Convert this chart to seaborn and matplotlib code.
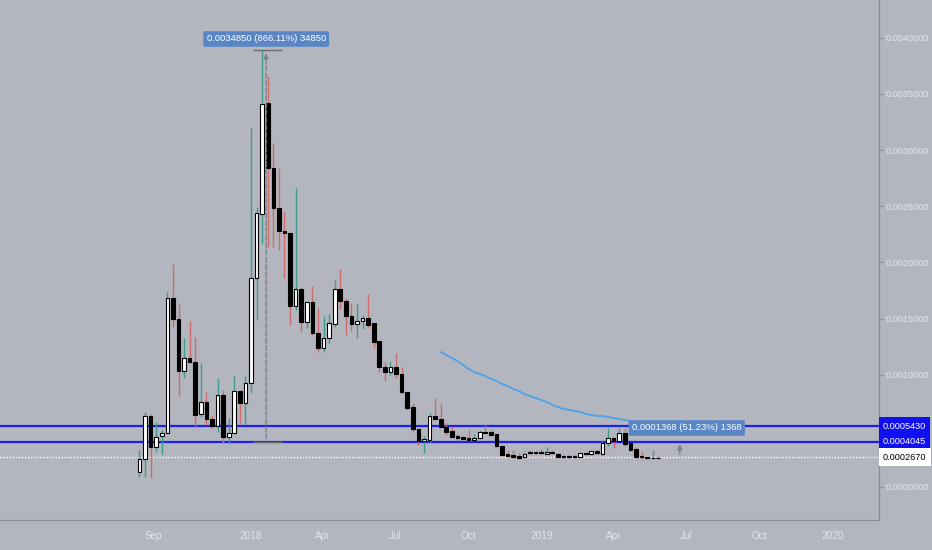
import matplotlib
matplotlib.use("Agg")
import matplotlib.dates as mdates
import matplotlib.pyplot as plt
import matplotlib.transforms as mtransforms
import numpy as np
import pandas as pd
import seaborn as sns

# weekly candles, prices in units of 1e-7
first_week = "2017-08-14"
opens = [1336, 2493, 6323, 3562, 4542, 4809, 16830, 14960, 10330, 11487,
         11131, 6501, 7569, 6055, 5432, 8193, 4453, 4809, 8549, 7480,
         9261, 18611, 24311, 34195, 28407, 24845, 22797, 22619, 16118, 17632,
         14693, 16474, 13714, 12378, 13268, 14515, 17632, 16563, 15228, 14515,
         14782, 15049, 14604, 13001, 10686, 10241, 10686, 10063, 8460, 7124,
         5165, 4096, 4185, 6323, 6055, 5343, 4987, 4542, 4453, 4363,
         4185, 4363, 4898, 4898, 4720, 3651, 2939, 2850, 2761, 2672,
         3117, 3117, 3117, 2939, 3117, 2939, 2761, 2761, 2761, 2672,
         3028, 2939, 3206, 2939, 3918, 4363, 4096, 4809, 3918, 3384,
         2761, 2672, 2582, 2600]
highs = [3295, 6679, 6501, 5788, 5076, 17365, 19858, 16296, 13268, 14782,
         13358, 11042, 8460, 6412, 9706, 8638, 6144, 9885, 8638, 9885,
         31969, 24934, 38874, 36600, 30633, 28407, 24489, 22619, 26626, 17810,
         16474, 17899, 15940, 15228, 15406, 18433, 19413, 16830, 16385, 16296,
         15317, 17187, 14604, 13001, 11131, 11131, 11933, 10686, 8460, 7480,
         5165, 4542, 6590, 7925, 7480, 5699, 5343, 4720, 4542, 5076,
         4720, 5076, 5521, 5076, 4720, 3651, 3295, 3295, 3028, 3117,
         3295, 3206, 3384, 3562, 3295, 3028, 2850, 2850, 2850, 3117,
         3117, 3295, 3295, 4096, 5254, 4453, 5254, 5254, 3918, 3562,
         3117, 2672, 3295, 2761]
lows = [891, 891, 801, 3117, 2939, 4809, 14248, 8104, 9706, 11042,
        5432, 6234, 5521, 5254, 4898, 3918, 3918, 4809, 5699, 5610,
        8371, 14871, 21728, 21372, 21372, 21105, 18611, 14426, 15762, 13803,
        14159, 13536, 12022, 12022, 12823, 14248, 15851, 13536, 13892, 13268,
        14070, 14159, 12378, 10241, 9439, 9974, 9706, 8282, 6857, 4898,
        3740, 3028, 4007, 5966, 5343, 4631, 4453, 4185, 4096, 4096,
        4185, 4274, 4809, 4631, 3562, 2761, 2672, 2582, 2493, 2672,
        2939, 2939, 2939, 2939, 2939, 2672, 2582, 2582, 2582, 2672,
        2850, 2850, 2939, 2850, 3651, 3473, 4096, 3651, 3206, 2582,
        2493, 2493, 2493, 2493]
closes = [2493, 6323, 3562, 4453, 4809, 16830, 14960, 10330, 11487, 11131,
          6412, 7569, 6055, 5432, 8193, 4453, 4809, 8549, 7480, 9261,
          18611, 24400, 34106, 28407, 24845, 22797, 22619, 16118, 17632, 14693,
          16474, 13714, 12378, 13268, 14604, 17632, 16563, 15228, 14515, 14782,
          15049, 14426, 12912, 10686, 10241, 10686, 10063, 8460, 7035, 5165,
          4096, 4274, 6323, 6055, 5343, 4898, 4453, 4363, 4274, 4185,
          4363, 4898, 4809, 4631, 3651, 2850, 2761, 2672, 2582, 2939,
          3028, 3028, 3028, 3117, 3028, 2672, 2672, 2672, 2672, 3028,
          2939, 3206, 3028, 3918, 4363, 4096, 4809, 3829, 3295, 2672,
          2672, 2582, 2600, 2582]

# moving average, starts at candle 54
ma_start = 54
ma_values = [12022, 11755, 11487, 11220, 10864, 10508, 10241, 10063, 9885, 9617,
             9439, 9172, 8994, 8727, 8549, 8282, 8104, 7925, 7747, 7569,
             7302, 7124, 6946, 6857, 6768, 6679, 6501, 6412, 6323, 6323,
             6234, 6144, 6055, 5966, 5877]

level_lines = [0.0005430, 0.0004045]
last_price = 0.0002670

measure1 = {"date": "2018-01-20", "low": 0.0004024, "high": 0.0038874,
            "text": "0.0034850 (866.11%) 34850"}
measure2 = {"date": "2019-06-23", "low": 0.0002670, "high": 0.0004038,
            "text": "0.0001368 (51.23%) 1368"}

tick_dates = ["2017-09-01", "2018-01-01", "2018-04-01", "2018-07-01", "2018-10-01",
              "2019-01-01", "2019-04-01", "2019-07-01", "2019-10-01", "2020-01-01"]
tick_labels = ["Sep", "2018", "Apr", "Jul", "Oct", "2019", "Apr", "Jul", "Oct", "2020"]
price_ticks = [0.0, 0.001, 0.0015, 0.002, 0.0025, 0.003, 0.0035, 0.004]

bg = "#b3b6be"
up_wick = "#3e9c8c"
down_wick = "#cf6b6b"
label_col = "#e4e6ea"

sns.set_theme(style="white")
plt.rcParams["font.family"] = ["Liberation Sans", "DejaVu Sans"]

scale = 1e-7
df = pd.DataFrame({
    "date": pd.date_range(first_week, periods=len(opens), freq="7D"),
    "open": np.array(opens) * scale,
    "high": np.array(highs) * scale,
    "low": np.array(lows) * scale,
    "close": np.array(closes) * scale,
})
df["x"] = mdates.date2num(df["date"])
df["up"] = df["close"] >= df["open"]

fig = plt.figure(figsize=(9.32, 5.5), dpi=100, facecolor=bg)
ax = fig.add_axes([0, 30 / 550, 879 / 932, 520 / 550])
ax.set_facecolor(bg)

# levels
for lv in level_lines:
    ax.axhline(lv, color="#1d1df5", lw=1.6, zorder=1)
ax.axhline(last_price, color="white", lw=1.0, ls=(0, (1, 1.2)), zorder=1)

# wicks
ax.vlines(df["x"], df["low"], df["high"],
          colors=np.where(df["up"], up_wick, down_wick), lw=1.0, zorder=2)

# bodies
ax.bar(df["x"], df["close"] - df["open"], bottom=df["open"], width=4.6,
       color=np.where(df["up"], "white", "black"), edgecolor="black",
       linewidth=0.8, zorder=3)

# moving average
ma = pd.DataFrame({"date": df["date"].iloc[ma_start:ma_start + len(ma_values)].values,
                   "ma": np.array(ma_values) * scale})
sns.lineplot(data=ma, x="date", y="ma", ax=ax, color="#4ca3ec", lw=1.3, zorder=2)

# measure tools
for m, half in ((measure1, 16), (measure2, 0)):
    xd = mdates.date2num(pd.Timestamp(m["date"]))
    ax.annotate("", xy=(xd, m["high"]), xytext=(xd, m["low"]),
                arrowprops=dict(arrowstyle="-|>", color="#7c7f86", lw=1.0,
                                ls="--" if half else "-", mutation_scale=7),
                zorder=4)
    if half:
        ax.hlines([m["high"], m["low"]], xd - half, xd + half + 4,
                  color="#6b6e74", lw=1.0, zorder=4)
box_style = dict(boxstyle="round,pad=0.35,rounding_size=0.15", fc="#5b86c6", ec="none")
xd1 = mdates.date2num(pd.Timestamp(measure1["date"]))
ax.text(xd1, 0.0039894, measure1["text"], ha="center", va="center",
        fontsize=6.8, color="white", bbox=box_style, zorder=5)
ax.text(mdates.date2num(pd.Timestamp("2019-04-24")), 0.0005254, measure2["text"],
        ha="left", va="center", fontsize=6.8, color="white", bbox=box_style, zorder=5)

# axes
ax.set_xlim(mdates.date2num(pd.Timestamp("2017-02-20")),
            mdates.date2num(pd.Timestamp("2020-02-28")))
ax.set_ylim(-0.000294, 0.0043367)
ax.set_xlabel("")
ax.set_ylabel("")
ax.set_xticks(mdates.date2num(pd.to_datetime(tick_dates)))
ax.set_xticklabels(tick_labels)
ax.yaxis.tick_right()
ax.set_yticks(price_ticks)
ax.set_yticklabels([f"{p:.7f}" for p in price_ticks])
ax.tick_params(axis="both", colors="#8b8e95", labelcolor=label_col, labelsize=6.6,
               length=3, width=0.8, direction="out")
ax.tick_params(axis="x", pad=5, labelsize=7.2)
ax.tick_params(axis="y", pad=2)
for side in ("top", "left"):
    ax.spines[side].set_visible(False)
for side in ("right", "bottom"):
    ax.spines[side].set_color("#8b8e95")
    ax.spines[side].set_linewidth(0.9)
ax.grid(False)

# price labels on the scale
trans = mtransforms.blended_transform_factory(ax.transAxes, ax.transData)
for lv in level_lines:
    ax.text(1.0045, lv, f"{lv:.7f}", transform=trans, ha="left", va="center",
            fontsize=6.6, color="white", clip_on=False,
            bbox=dict(boxstyle="square,pad=0.45", fc="#1010f0", ec="none"))
ax.text(1.0045, last_price, f"{last_price:.7f}", transform=trans, ha="left",
        va="center", fontsize=6.6, color="black", clip_on=False,
        bbox=dict(boxstyle="square,pad=0.45", fc="white", ec="none"))

fig.savefig("out.png", dpi=100, facecolor=bg)
